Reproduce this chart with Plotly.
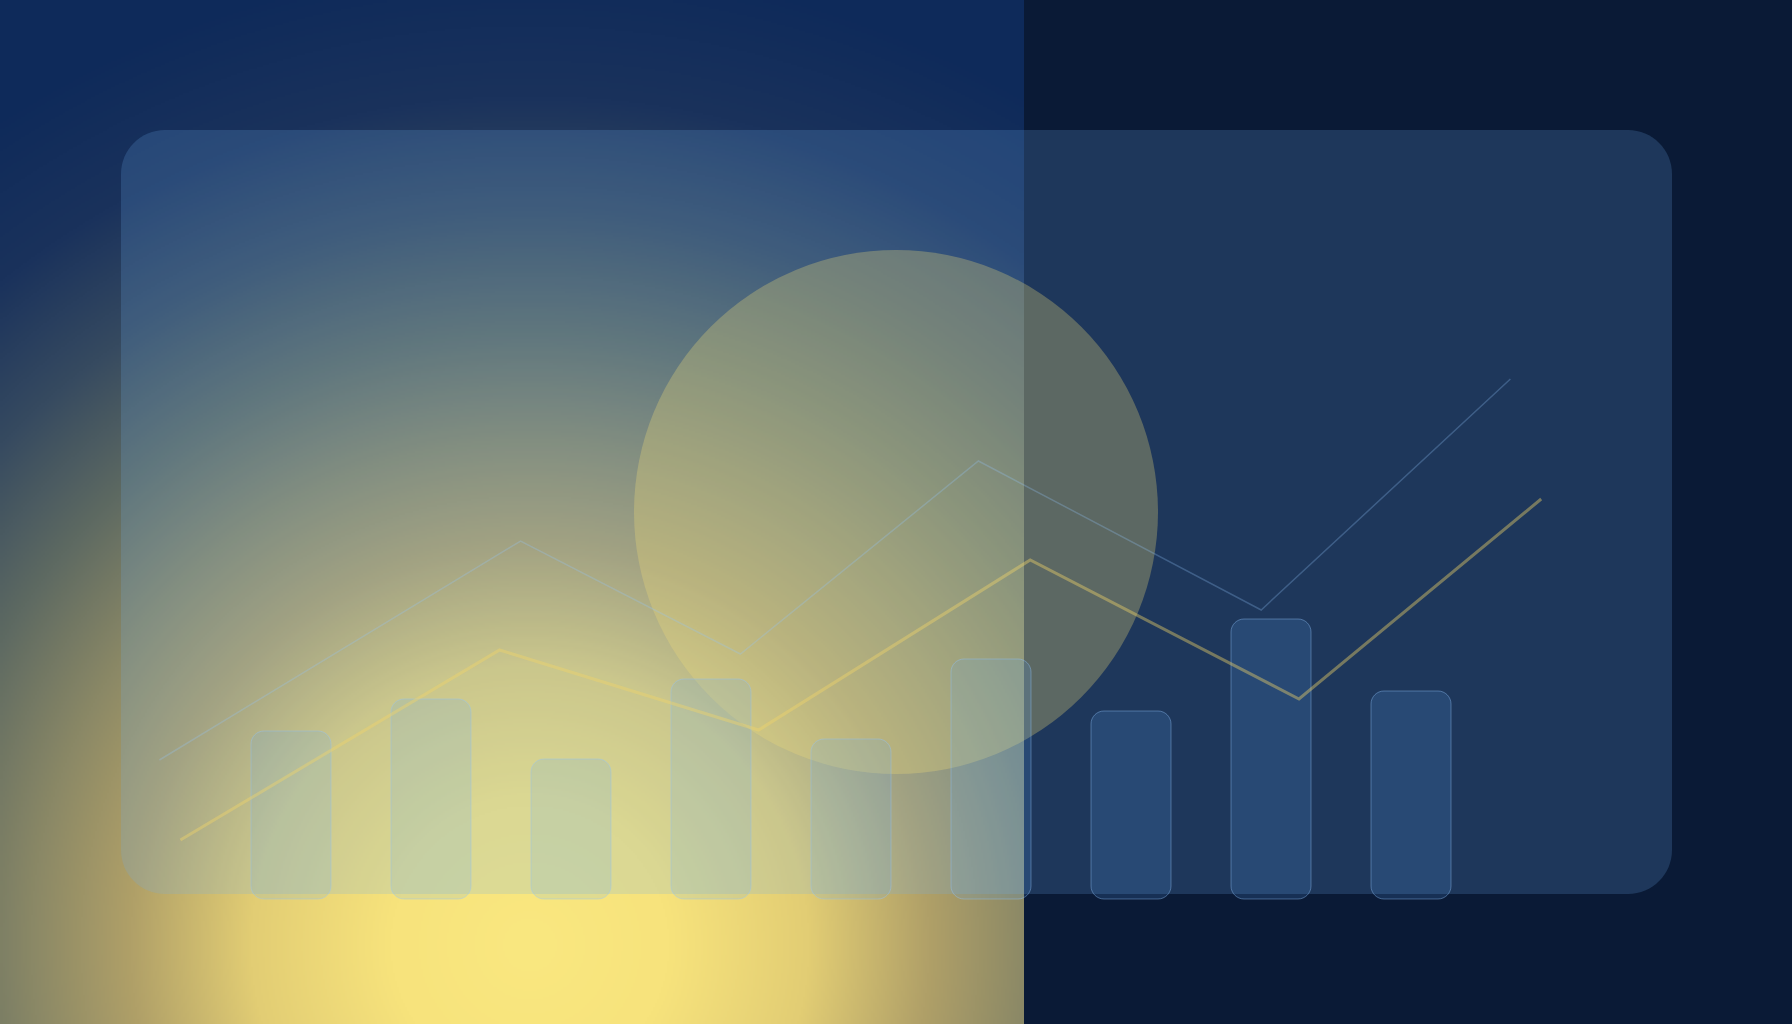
import base64
import struct
import zlib

import numpy as np
import plotly.graph_objects as go

# ---------------- data ----------------
bar_positions = [0, 1, 2, 3, 4, 5, 6, 7, 8]
bar_values = [42, 50, 35, 55, 40, 60, 47, 70, 52]

blue_x = [-0.94, 1.64, 3.21, 4.91, 6.93, 8.71]
blue_y = [34.75, 89.5, 61.25, 109.5, 72.25, 130]

gold_x = [-0.79, 1.49, 3.34, 5.28, 7.2, 8.93]
gold_y = [14.75, 62.25, 42.25, 84.75, 50, 100]

# ---------------- page geometry ----------------
W, H = 1792, 1024
PX_PER_X = 140.0   # pixels per x unit
PX_PER_Y = 4.0     # pixels per y unit
X_RANGE = [-291 / PX_PER_X, (W - 291) / PX_PER_X]
Y_RANGE = [(899 - H) / PX_PER_Y, 899 / PX_PER_Y]
BAR_WIDTH = 80 / PX_PER_X
BAR_RADIUS_PX = 13


def px_to_paper(px, py):
    return px / W, 1 - py / H


# ---------------- background glow (left half) ----------------
def make_png(rgb):
    h, w, _ = rgb.shape
    raw = b"".join(b"\x00" + rgb[r].tobytes() for r in range(h))

    def chunk(tag, data):
        c = tag + data
        return struct.pack(">I", len(data)) + c + struct.pack(">I", zlib.crc32(c) & 0xFFFFFFFF)

    png = b"\x89PNG\r\n\x1a\n"
    png += chunk(b"IHDR", struct.pack(">IIBBBBB", w, h, 8, 2, 0, 0, 0))
    png += chunk(b"IDAT", zlib.compress(raw, 9))
    png += chunk(b"IEND", b"")
    return "data:image/png;base64," + base64.b64encode(png).decode()


N = 512
half_w = 1024
xs = (np.arange(N) + 0.5) * half_w / N
ys = (np.arange(N) + 0.5) * H / N
XX, YY = np.meshgrid(xs, ys)
dist = np.sqrt((XX - 530) ** 2 + (YY - 945) ** 2)
stops_d = [0, 140, 280, 400, 500, 610, 730, 850, 990, 3000]
stops_c = [
    (250, 232, 128),
    (247, 227, 124),
    (226, 205, 116),
    (176, 160, 104),
    (138, 136, 102),
    (94, 106, 98),
    (54, 74, 96),
    (26, 50, 92),
    (14, 42, 90),
    (14, 42, 90),
]
img = np.zeros((N, N, 3), dtype=np.uint8)
for ch in range(3):
    img[:, :, ch] = np.clip(np.interp(dist, stops_d, [c[ch] for c in stops_c]), 0, 255).astype(np.uint8)
glow_src = make_png(img)


# ---------------- rounded rectangle paths ----------------
def rounded_path(x0, y0, x1, y1, rx, ry, conv):
    """x0<x1, y0 top edge, y1 bottom edge in the given frame; conv maps to output coords."""
    k = 0.5523
    sy = 1 if y1 > y0 else -1

    def p(x, y):
        a, b = conv(x, y)
        return f"{a:.6f},{b:.6f}"

    ty = lambda d: y0 + sy * d
    by = lambda d: y1 - sy * d
    d = f"M {p(x0 + rx, y0)} L {p(x1 - rx, y0)} "
    d += f"C {p(x1 - rx + k * rx, y0)} {p(x1, ty(ry - k * ry))} {p(x1, ty(ry))} "
    d += f"L {p(x1, by(ry))} "
    d += f"C {p(x1, by(ry - k * ry))} {p(x1 - rx + k * rx, y1)} {p(x1 - rx, y1)} "
    d += f"L {p(x0 + rx, y1)} "
    d += f"C {p(x0 + rx - k * rx, y1)} {p(x0, by(ry - k * ry))} {p(x0, by(ry))} "
    d += f"L {p(x0, ty(ry))} "
    d += f"C {p(x0, ty(ry - k * ry))} {p(x0 + rx - k * rx, y0)} {p(x0 + rx, y0)} Z"
    return d


card_path = rounded_path(121, 130, 1672, 894, 44, 44, px_to_paper)

cx0, cy1 = px_to_paper(896 - 262, 512 - 262)
cx1, cy0 = px_to_paper(896 + 262, 512 + 262)

shapes = [
    dict(
        type="path",
        path=card_path,
        xref="paper",
        yref="paper",
        fillcolor="rgba(110,175,240,0.2)",
        line=dict(width=0),
        layer="below",
    ),
    dict(
        type="circle",
        xref="paper",
        yref="paper",
        x0=cx0,
        x1=cx1,
        y0=cy0,
        y1=cy1,
        fillcolor="rgba(240,220,120,0.3)",
        line=dict(width=0),
        layer="below",
    ),
]

# bars: rounded rectangles placed with the data axes (x = category position, y = value)
rx = BAR_RADIUS_PX / PX_PER_X
ry = BAR_RADIUS_PX / PX_PER_Y
for pos, val in zip(bar_positions, bar_values):
    path = rounded_path(
        pos - BAR_WIDTH / 2, val, pos + BAR_WIDTH / 2, 0, rx, ry, lambda x, y: (x, y)
    )
    shapes.append(
        dict(
            type="path",
            path=path,
            xref="x",
            yref="y",
            fillcolor="rgba(96,165,250,0.16)",
            line=dict(color="rgba(147,197,253,0.4)", width=1),
            layer="below",
        )
    )

# ---------------- figure ----------------
fig = go.Figure()

fig.add_trace(
    go.Scatter(
        x=blue_x,
        y=blue_y,
        mode="lines",
        line=dict(color="rgba(147,197,253,0.28)", width=1.5),
        hoverinfo="skip",
    )
)

fig.add_trace(
    go.Scatter(
        x=gold_x,
        y=gold_y,
        mode="lines",
        line=dict(color="rgba(240,212,105,0.42)", width=3),
        hoverinfo="skip",
    )
)

fig.update_layout(
    width=W,
    height=H,
    margin=dict(l=0, r=0, t=0, b=0),
    paper_bgcolor="#0a1a36",
    plot_bgcolor="rgba(0,0,0,0)",
    showlegend=False,
    xaxis=dict(range=X_RANGE, visible=False, fixedrange=True),
    yaxis=dict(range=Y_RANGE, visible=False, fixedrange=True),
    images=[
        dict(
            source=glow_src,
            xref="paper",
            yref="paper",
            x=0,
            y=1,
            sizex=half_w / W,
            sizey=1,
            sizing="stretch",
            xanchor="left",
            yanchor="top",
            layer="below",
        )
    ],
    shapes=shapes,
)

fig.write_html(
    "out.html",
    config={"displayModeBar": False, "staticPlot": True},
    post_script="document.body.style.margin='0';document.body.style.overflow='hidden';",
)
